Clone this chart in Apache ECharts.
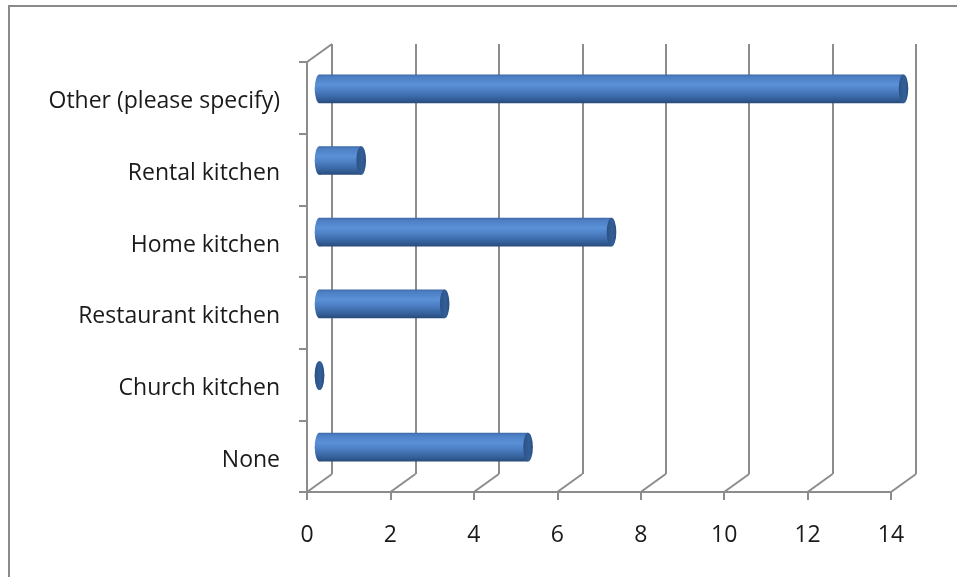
<!DOCTYPE html>
<html>
<head>
<meta charset="utf-8">
<style>
  html, body { margin: 0; padding: 0; background: #ffffff; }
  #chart { width: 957px; height: 577px; }
</style>
<script src="https://cdn.jsdelivr.net/npm/echarts@6/dist/echarts.min.js"></script>
</head>
<body>
<div id="chart"></div>
<script>
// Survey answers, listed bottom to top as they sit on the category axis
const categories = ['None', 'Church kitchen', 'Restaurant kitchen', 'Home kitchen', 'Rental kitchen', 'Other (please specify)'];
const counts = [5, 0, 3, 7, 1, 14];
const xTicks = [0, 2, 4, 6, 8, 10, 12, 14];

// Pseudo-3D depth: back wall sits this many pixels right/up from the front plane
const DEPTH_X = 25;
const DEPTH_Y = -18;
const FRONT = { left: 307, top: 62, width: 584, height: 430 };
const LABEL_DROP = 4;

const GRID_COLOR = '#8c8c8c';
const FONT = '"Open Sans", Lato, sans-serif';
const FONT_SIZE = 23;

const chart = echarts.init(document.getElementById('chart'), null, { renderer: 'canvas' });

const grids = [
  // 0: front plane (axis lines, ticks, labels)
  { left: FRONT.left, top: FRONT.top, width: FRONT.width, height: FRONT.height },
  // 1: back wall (vertical grid lines)
  { left: FRONT.left + DEPTH_X, top: FRONT.top + DEPTH_Y, width: FRONT.width, height: FRONT.height },
  // 2: mid-depth plane where the cylinders sit
  { left: FRONT.left + DEPTH_X / 2, top: FRONT.top + DEPTH_Y / 2, width: FRONT.width, height: FRONT.height },
  // 3: category text, set a touch lower than the tick bands
  { left: FRONT.left, top: FRONT.top + LABEL_DROP, width: FRONT.width, height: FRONT.height }
];

const barGradient = new echarts.graphic.LinearGradient(0, 0, 0, 1, [
  { offset: 0.0, color: '#3e69a6' },
  { offset: 0.08, color: '#4c7ec3' },
  { offset: 0.35, color: '#5b91d8' },
  { offset: 0.6, color: '#4a7bbf' },
  { offset: 0.85, color: '#34609a' },
  { offset: 1.0, color: '#294a7b' }
]);

function renderCylinder(params, api) {
  const cat = api.value(0);
  const val = api.value(1);
  const start = api.coord([0, cat]);
  const end = api.coord([val, cat]);
  const h = api.size([0, 1])[1] * 0.4;
  const rx = 4.8;
  const ry = h / 2;
  const cy = start[1];
  return {
    type: 'group',
    children: [
      {
        type: 'circle',
        shape: { cx: 0, cy: 0, r: ry },
        x: start[0], y: cy, scaleX: rx / ry, scaleY: 1,
        style: { fill: barGradient }
      },
      {
        type: 'rect',
        shape: { x: start[0], y: cy - ry, width: Math.max(0, end[0] - start[0]), height: h },
        style: { fill: barGradient }
      },
      {
        type: 'circle',
        shape: { cx: 0, cy: 0, r: ry },
        x: end[0], y: cy, scaleX: rx / ry, scaleY: 1,
        style: {
          fill: new echarts.graphic.LinearGradient(0, 0, 1, 0, [
            { offset: 0, color: '#2b5286' },
            { offset: 0.6, color: '#335f97' },
            { offset: 1, color: '#2a4f82' }
          ])
        }
      }
    ]
  };
}

// Diagonal edges joining the front plane to the back wall
function renderDepthEdge(params, api) {
  const p = api.coord([api.value(0), api.value(1)]);
  return {
    type: 'line',
    shape: { x1: p[0], y1: p[1], x2: p[0] + DEPTH_X, y2: p[1] + DEPTH_Y },
    style: { stroke: GRID_COLOR, lineWidth: 2 }
  };
}

const floorEdges = xTicks.map(v => [v, 0]);
floorEdges.push([0, categories.length]);

const option = {
  backgroundColor: '#ffffff',
  animation: false,
  graphic: [
    {
      type: 'rect',
      shape: { x: 9, y: 6, width: 1000, height: 1000 },
      style: { fill: 'none', stroke: '#8a8a8a', lineWidth: 2 },
      z: -10
    }
  ],
  grid: grids,
  xAxis: [
    {
      gridIndex: 0, type: 'value', min: 0, max: 14, interval: 2,
      axisLine: { show: true, lineStyle: { color: GRID_COLOR, width: 2 } },
      axisTick: { show: true, length: 8, lineStyle: { color: GRID_COLOR, width: 2 } },
      axisLabel: { fontFamily: FONT, fontSize: FONT_SIZE, color: '#1a1a1a', margin: 32 },
      splitLine: { show: false }
    },
    {
      gridIndex: 1, type: 'value', min: 0, max: 14, interval: 2,
      axisLine: { show: false }, axisTick: { show: false }, axisLabel: { show: false },
      splitLine: { show: true, lineStyle: { color: GRID_COLOR, width: 2 } }
    },
    {
      gridIndex: 2, type: 'value', min: 0, max: 14, interval: 2, show: false
    },
    {
      gridIndex: 3, type: 'value', min: 0, max: 14, interval: 2, show: false
    }
  ],
  yAxis: [
    {
      gridIndex: 0, type: 'category', data: categories, boundaryGap: true,
      axisLine: { show: true, lineStyle: { color: GRID_COLOR, width: 2 } },
      axisTick: { show: true, length: 8, lineStyle: { color: GRID_COLOR, width: 2 } },
      axisLabel: { show: false },
      splitLine: { show: false }
    },
    {
      gridIndex: 1, type: 'category', data: categories, show: false
    },
    {
      gridIndex: 2, type: 'category', data: categories, show: false
    },
    {
      gridIndex: 0, type: 'value', min: 0, max: categories.length, show: false
    },
    {
      gridIndex: 3, type: 'category', data: categories, boundaryGap: true,
      axisLine: { show: false }, axisTick: { show: false }, splitLine: { show: false },
      axisLabel: { fontFamily: FONT, fontSize: FONT_SIZE, color: '#1a1a1a', margin: 27 }
    }
  ],
  series: [
    {
      type: 'custom',
      xAxisIndex: 0, yAxisIndex: 3,
      renderItem: renderDepthEdge,
      data: floorEdges,
      silent: true, z: 1
    },
    {
      type: 'custom',
      xAxisIndex: 2, yAxisIndex: 2,
      renderItem: renderCylinder,
      encode: { x: 1, y: 0 },
      data: counts.map((c, i) => [i, c]),
      z: 5
    }
  ]
};

chart.setOption(option);
</script>
</body>
</html>
